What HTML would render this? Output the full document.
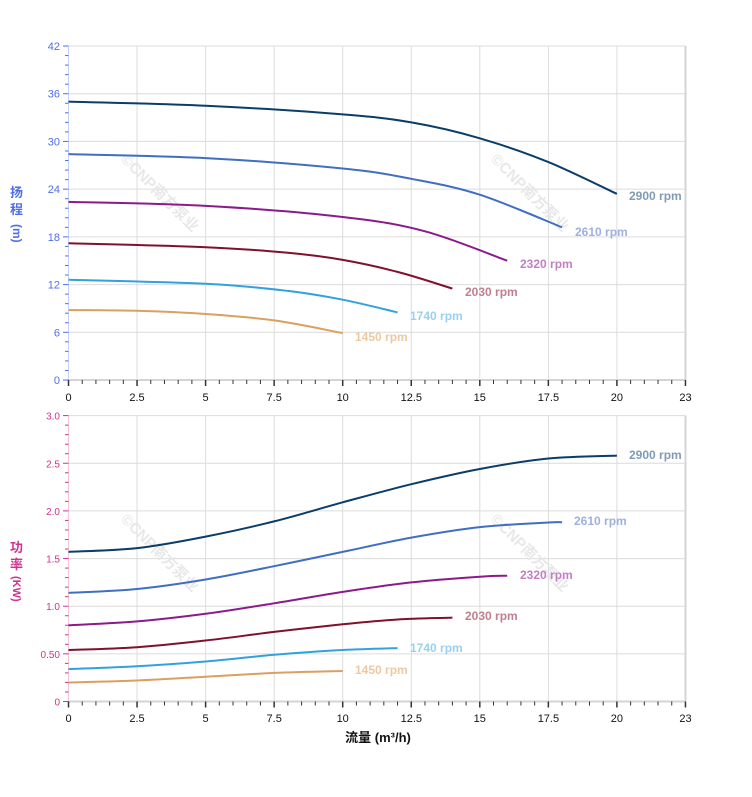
<!DOCTYPE html>
<html><head><meta charset="utf-8"><style>
html,body{margin:0;padding:0;background:#fff;}
svg{display:block;font-family:"Liberation Sans","Noto Sans CJK SC",sans-serif;}
</style></head><body>
<svg id="s" width="752" height="797" viewBox="0 0 752 797" xmlns="http://www.w3.org/2000/svg">
<g stroke="#dcdcdc" stroke-width="1">
<line x1="68.5" y1="46" x2="685.5" y2="46"/><line x1="68.5" y1="93.7" x2="685.5" y2="93.7"/><line x1="68.5" y1="141.4" x2="685.5" y2="141.4"/><line x1="68.5" y1="189.1" x2="685.5" y2="189.1"/><line x1="68.5" y1="236.9" x2="685.5" y2="236.9"/><line x1="68.5" y1="284.6" x2="685.5" y2="284.6"/><line x1="68.5" y1="332.3" x2="685.5" y2="332.3"/>
<line x1="68.5" y1="415.6" x2="685.5" y2="415.6"/><line x1="68.5" y1="463.3" x2="685.5" y2="463.3"/><line x1="68.5" y1="510.9" x2="685.5" y2="510.9"/><line x1="68.5" y1="558.6" x2="685.5" y2="558.6"/><line x1="68.5" y1="606.2" x2="685.5" y2="606.2"/><line x1="68.5" y1="653.9" x2="685.5" y2="653.9"/>
<line x1="137" y1="46" x2="137" y2="380"/><line x1="205.6" y1="46" x2="205.6" y2="380"/><line x1="274.2" y1="46" x2="274.2" y2="380"/><line x1="342.7" y1="46" x2="342.7" y2="380"/><line x1="411.3" y1="46" x2="411.3" y2="380"/><line x1="479.8" y1="46" x2="479.8" y2="380"/><line x1="548.4" y1="46" x2="548.4" y2="380"/><line x1="616.9" y1="46" x2="616.9" y2="380"/>
<line x1="137" y1="415.6" x2="137" y2="701.5"/><line x1="205.6" y1="415.6" x2="205.6" y2="701.5"/><line x1="274.2" y1="415.6" x2="274.2" y2="701.5"/><line x1="342.7" y1="415.6" x2="342.7" y2="701.5"/><line x1="411.3" y1="415.6" x2="411.3" y2="701.5"/><line x1="479.8" y1="415.6" x2="479.8" y2="701.5"/><line x1="548.4" y1="415.6" x2="548.4" y2="701.5"/><line x1="616.9" y1="415.6" x2="616.9" y2="701.5"/>
</g>
<g stroke="#d4d4d4" stroke-width="2"><line x1="685.5" y1="46" x2="685.5" y2="380"/><line x1="685.5" y1="415.6" x2="685.5" y2="701.5"/><line x1="68" y1="380" x2="686" y2="380"/><line x1="68" y1="701.5" x2="686" y2="701.5"/></g>
<g fill="#e6e6e6" font-size="15" font-weight="bold" opacity="0.9">
<text transform="translate(120,160) rotate(45)">©CNP南方泵业</text>
<text transform="translate(490,160) rotate(45)">©CNP南方泵业</text>
<text transform="translate(120,520) rotate(45)">©CNP南方泵业</text>
<text transform="translate(490,520) rotate(45)">©CNP南方泵业</text>
</g>
<g id="ticks"></g>
<g id="curves" fill="none" stroke-width="2"></g>
<g font-size="11" fill="#4d6fe8" text-anchor="end">
<text x="60" y="50">42</text><text x="60" y="97.7">36</text><text x="60" y="145.4">30</text><text x="60" y="193.1">24</text><text x="60" y="240.9">18</text><text x="60" y="288.6">12</text><text x="60" y="336.3">6</text><text x="60" y="384">0</text>
</g>
<g font-size="10" fill="#d0338f" text-anchor="end">
<text x="60" y="419.6">3.0</text><text x="60" y="467.3">2.5</text><text x="60" y="514.9">2.0</text><text x="60" y="562.6">1.5</text><text x="60" y="610.2">1.0</text><text x="60" y="657.9">0.50</text><text x="60" y="705.5">0</text>
</g>
<g font-size="11" fill="#111" text-anchor="middle">
<text x="68.5" y="401">0</text><text x="137" y="401">2.5</text><text x="205.6" y="401">5</text><text x="274.2" y="401">7.5</text><text x="342.7" y="401">10</text><text x="411.3" y="401">12.5</text><text x="479.8" y="401">15</text><text x="548.4" y="401">17.5</text><text x="616.9" y="401">20</text><text x="685.5" y="401">23</text>
<text x="68.5" y="722">0</text><text x="137" y="722">2.5</text><text x="205.6" y="722">5</text><text x="274.2" y="722">7.5</text><text x="342.7" y="722">10</text><text x="411.3" y="722">12.5</text><text x="479.8" y="722">15</text><text x="548.4" y="722">17.5</text><text x="616.9" y="722">20</text><text x="685.5" y="722">23</text>
</g>
<text x="378" y="742" font-size="13" font-weight="bold" fill="#111" text-anchor="middle">流量 (m³/h)</text>
<g font-size="13" font-weight="bold" fill="#4d6fe8">
<text x="10" y="197">扬</text><text x="10" y="214">程</text>
<text transform="translate(13,224) rotate(90)" font-size="12">(m)</text>
</g>
<g font-size="13" font-weight="bold" fill="#d0338f">
<text x="10" y="552">功</text><text x="10" y="569">率</text>
<text transform="translate(13,576) rotate(90)" font-size="11">(KW)</text>
</g>
<g font-size="12" font-weight="bold">
<text x="629" y="200" fill="#7f9bb5">2900 rpm</text>
<text x="575" y="236" fill="#9fb0de">2610 rpm</text>
<text x="520" y="268" fill="#c27fc2">2320 rpm</text>
<text x="465" y="296" fill="#c07f8f">2030 rpm</text>
<text x="410" y="320" fill="#99d0ef">1740 rpm</text>
<text x="355" y="341" fill="#ecc9a0">1450 rpm</text>
<text x="629" y="459" fill="#7f9bb5">2900 rpm</text>
<text x="574" y="525" fill="#9fb0de">2610 rpm</text>
<text x="520" y="579" fill="#c27fc2">2320 rpm</text>
<text x="465" y="620" fill="#c07f8f">2030 rpm</text>
<text x="410" y="652" fill="#99d0ef">1740 rpm</text>
<text x="355" y="674" fill="#ecc9a0">1450 rpm</text>
</g>
</svg>
<script>
(function(){
var NS="http://www.w3.org/2000/svg";
function X(q){return 68.5+q*27.42;}
function YT(h){return 380-h*7.952;}
function YB(p){return 701.5-p*95.3;}
function el(t,a,par){var e=document.createElementNS(NS,t);for(var k in a)e.setAttribute(k,a[k]);par.appendChild(e);return e;}
var tk=document.getElementById('ticks');
el('line',{x1:68.5,y1:46,x2:68.5,y2:380,stroke:'#c8d2f5','stroke-width':1},tk);
el('line',{x1:68.5,y1:415.6,x2:68.5,y2:701.5,stroke:'#f0c8dc','stroke-width':1},tk);
for(var h=0;h<=42.01;h+=1.2){var y=YT(h);var maj=Math.abs(h/6-Math.round(h/6))<0.01;el('line',{x1:maj?63:65,y1:y,x2:68.5,y2:y,stroke:'#4d6fe8','stroke-width':1},tk);}
for(var p=0;p<=3.001;p+=0.1){var y2=YB(p);var maj2=Math.abs(p/0.5-Math.round(p/0.5))<0.01;el('line',{x1:maj2?63:65,y1:y2,x2:68.5,y2:y2,stroke:'#d0338f','stroke-width':1},tk);}
for(var q=0;q<=22.51;q+=0.5){var x=X(q);var maj3=Math.abs(q/2.5-Math.round(q/2.5))<0.01;
el('line',{x1:x,y1:380,x2:x,y2:maj3?386:384,stroke:'#333','stroke-width':maj3?1.5:1},tk);
el('line',{x1:x,y1:701.5,x2:x,y2:maj3?707.5:705.5,stroke:'#333','stroke-width':maj3?1.5:1},tk);}
function path(pts){var s='M'+pts[0][0]+','+pts[0][1];for(var i=0;i<pts.length-1;i++){var p0=pts[i-1]||pts[i],p1=pts[i],p2=pts[i+1],p3=pts[i+2]||p2;
var c1=[p1[0]+(p2[0]-p0[0])/6,p1[1]+(p2[1]-p0[1])/6],c2=[p2[0]-(p3[0]-p1[0])/6,p2[1]-(p3[1]-p1[1])/6];s+='C'+c1[0].toFixed(1)+','+c1[1].toFixed(1)+' '+c2[0].toFixed(1)+','+c2[1].toFixed(1)+' '+p2[0].toFixed(1)+','+p2[1].toFixed(1);}return s;}
var cols=['#0b3d6b','#3f6ec2','#8b1a8b','#80102c','#33a1e0','#d9a060'];
var tdat=[
[[0,35],[5,34.5],[10,33.4],[12.5,32.4],[15,30.4],[17.5,27.4],[20,23.4]],
[[0,28.4],[5,27.9],[10,26.6],[12.5,25.3],[15,23.3],[18,19.2]],
[[0,22.4],[5,21.9],[10,20.5],[13,18.7],[16,15]],
[[0,17.2],[5,16.7],[8,16],[10,15.1],[12,13.6],[14,11.5]],
[[0,12.6],[5,12.1],[8,11.2],[10,10.1],[12,8.5]],
[[0,8.8],[2.5,8.7],[5,8.3],[7.5,7.5],[10,5.9]]];
var bdat=[
[[0,1.57],[2.5,1.61],[5,1.73],[7.5,1.89],[10,2.09],[12.5,2.28],[15,2.44],[17.5,2.55],[20,2.58]],
[[0,1.14],[2.5,1.18],[5,1.28],[7.5,1.42],[10,1.57],[12.5,1.72],[15,1.83],[17.5,1.878],[18,1.88]],
[[0,0.80],[2.5,0.84],[5,0.92],[7.5,1.03],[10,1.15],[12.5,1.25],[15,1.31],[16,1.32]],
[[0,0.54],[2.5,0.57],[5,0.64],[7.5,0.73],[10,0.81],[12,0.86],[14,0.88]],
[[0,0.34],[2.5,0.37],[5,0.42],[7.5,0.49],[10,0.54],[12,0.56]],
[[0,0.20],[2.5,0.22],[5,0.26],[7.5,0.30],[10,0.32]]];
var cg=document.getElementById('curves');
for(var i=0;i<6;i++){
el('path',{d:path(tdat[i].map(function(a){return [X(a[0]),YT(a[1])];})),stroke:cols[i]},cg);
el('path',{d:path(bdat[i].map(function(a){return [X(a[0]),YB(a[1])];})),stroke:cols[i]},cg);}
})();
</script>
</body></html>
